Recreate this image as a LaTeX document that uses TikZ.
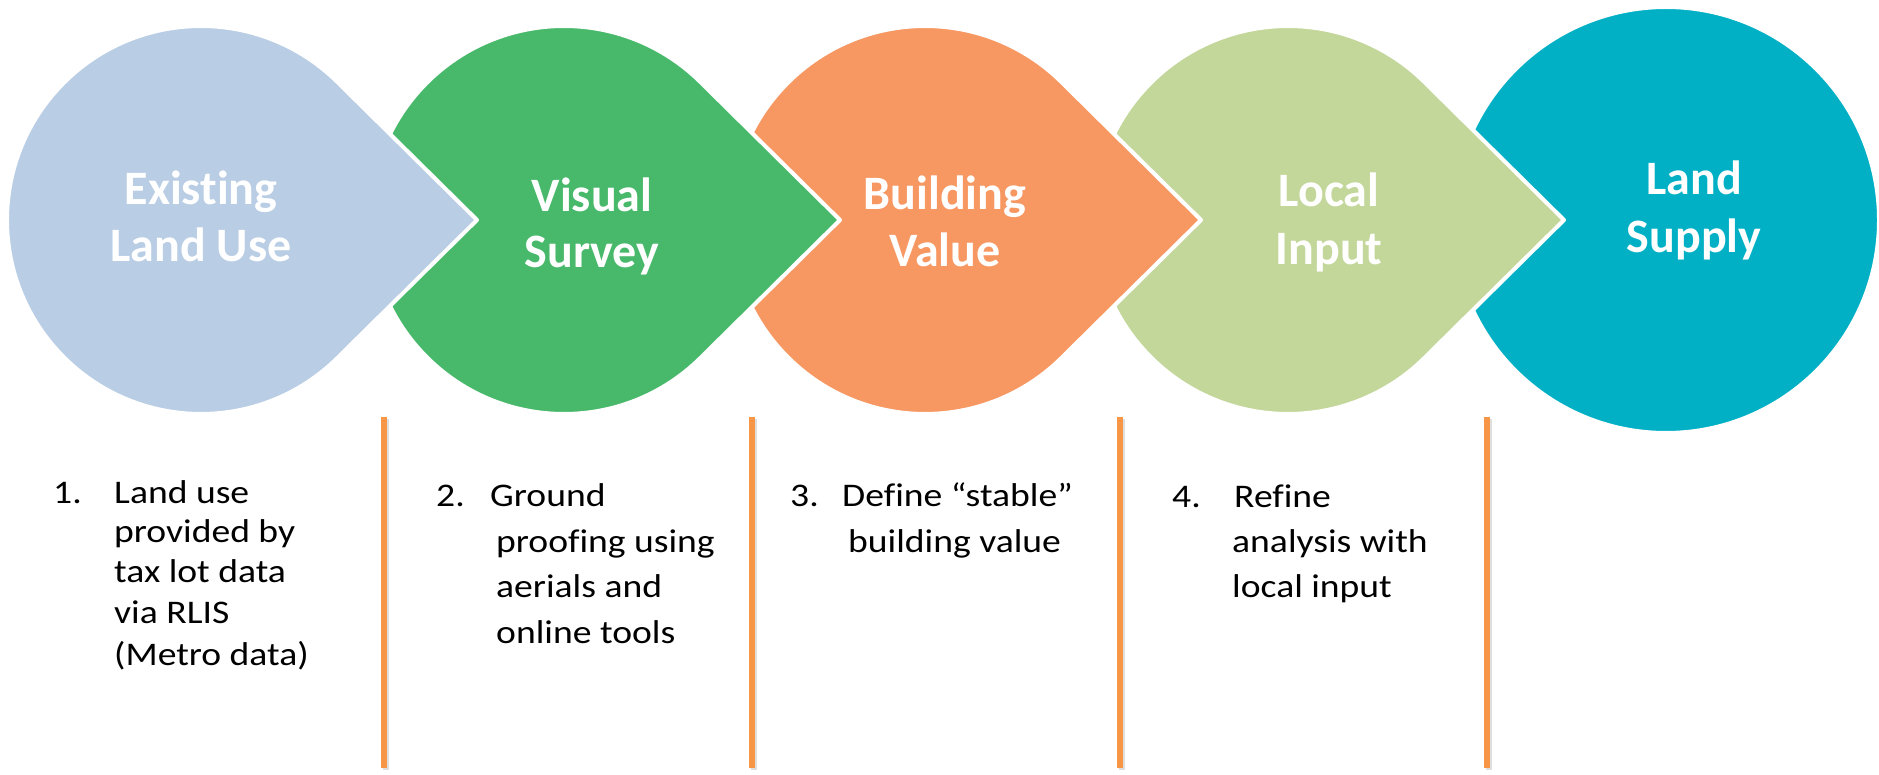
\documentclass[tikz,border=0pt]{standalone}
\usepackage{fontspec}
\setmainfont{Carlito}[Ligatures={NoCommon}]
\newfontfamily\bodyfont[FakeStretch=1.14,Ligatures={NoCommon}]{Carlito}
\definecolor{cblue}{HTML}{B9CDE5}
\definecolor{cgreen}{HTML}{48B96A}
\definecolor{corange}{HTML}{F79762}
\definecolor{clgreen}{HTML}{C4D79B}
\definecolor{cteal}{HTML}{02B0C6}
\definecolor{cline}{HTML}{F79646}
\tikzset{
  tearshape/.style={fill=#1, draw=white, line width=4pt, line join=round},
  title/.style={anchor=base, inner sep=0pt, text=white, font=\fontsize{48}{57}\selectfont\bfseries},
  body/.style={anchor=base west, inner sep=0pt, text=black, font=\bodyfont\fontsize{33}{40}\selectfont},
  divider/.style={draw=cline, line width=6pt},
  dividershadow/.style={draw=black!25, line width=6pt},
}
\begin{document}
\begin{tikzpicture}[x=1pt,y=1pt]
\useasboundingbox (0,0) rectangle (1879,774);
% shapes, right to left so each tip lies over the next shape
\path[tearshape=cteal] (1666,554) circle[radius=213];
\path[tearshape=clgreen] (1288,554) ++(45.3:194) arc[start angle=45.3,end angle=314.7,radius=194] -- (1564,554) -- cycle;
\path[tearshape=corange] (925,554) ++(45.3:194) arc[start angle=45.3,end angle=314.7,radius=194] -- (1201,554) -- cycle;
\path[tearshape=cgreen] (564,554) ++(45.3:194) arc[start angle=45.3,end angle=314.7,radius=194] -- (840,554) -- cycle;
\path[tearshape=cblue] (201,554) ++(45.3:194) arc[start angle=45.3,end angle=314.7,radius=194] -- (477,554) -- cycle;
% titles
\node[title] (h1a) at (201,569) {Existing};
\node[title] (h1b) at (201,512) {Land Use};
\node[title] (h2a) at (592,562) {Visual};
\node[title] (h2b) at (592,506) {Survey};
\node[title] (h3a) at (945,564) {Building};
\node[title] (h3b) at (945,507) {Value};
\node[title] (h4a) at (1329,567) {Local};
\node[title] (h4b) at (1329,509) {Input};
\node[title] (h5a) at (1694,579) {Land};
\node[title] (h5b) at (1694,521) {Supply};
% dividers
\foreach \x in {384,752,1120,1487}{
  \draw[dividershadow, opacity=0.5] (\x+2,355) -- (\x+2,4);
  \draw[divider] (\x,357) -- (\x,6);
}
% item 1
\node[body] (n1) at (53,270) {1.};
\node[body] (t1a) at (114,270) {Land use};
\node[body] (t1b) at (114,231) {provided by};
\node[body] (t1c) at (114,191) {tax lot data};
\node[body] (t1d) at (114,150) {via RLIS};
\node[body] (t1e) at (114,109) {(Metro data)};
% item 2
\node[body] (n2) at (436,267) {2.};
\node[body] (t2a) at (490,267) {Ground};
\node[body] (t2b) at (496,221) {proofing using};
\node[body] (t2c) at (496,176) {aerials and};
\node[body] (t2d) at (496,131) {online tools};
% item 3
\node[body] (n3) at (790,267) {3.};
\node[body] (t3a) at (842,267) {Define “stable”};
\node[body] (t3b) at (848,221) {building value};
% item 4
\node[body] (n4) at (1172,266) {4.};
\node[body] (t4a) at (1234,266) {Refine};
\node[body] (t4b) at (1232,221) {analysis with};
\node[body] (t4c) at (1232,176) {local input};
\end{tikzpicture}
\end{document}
